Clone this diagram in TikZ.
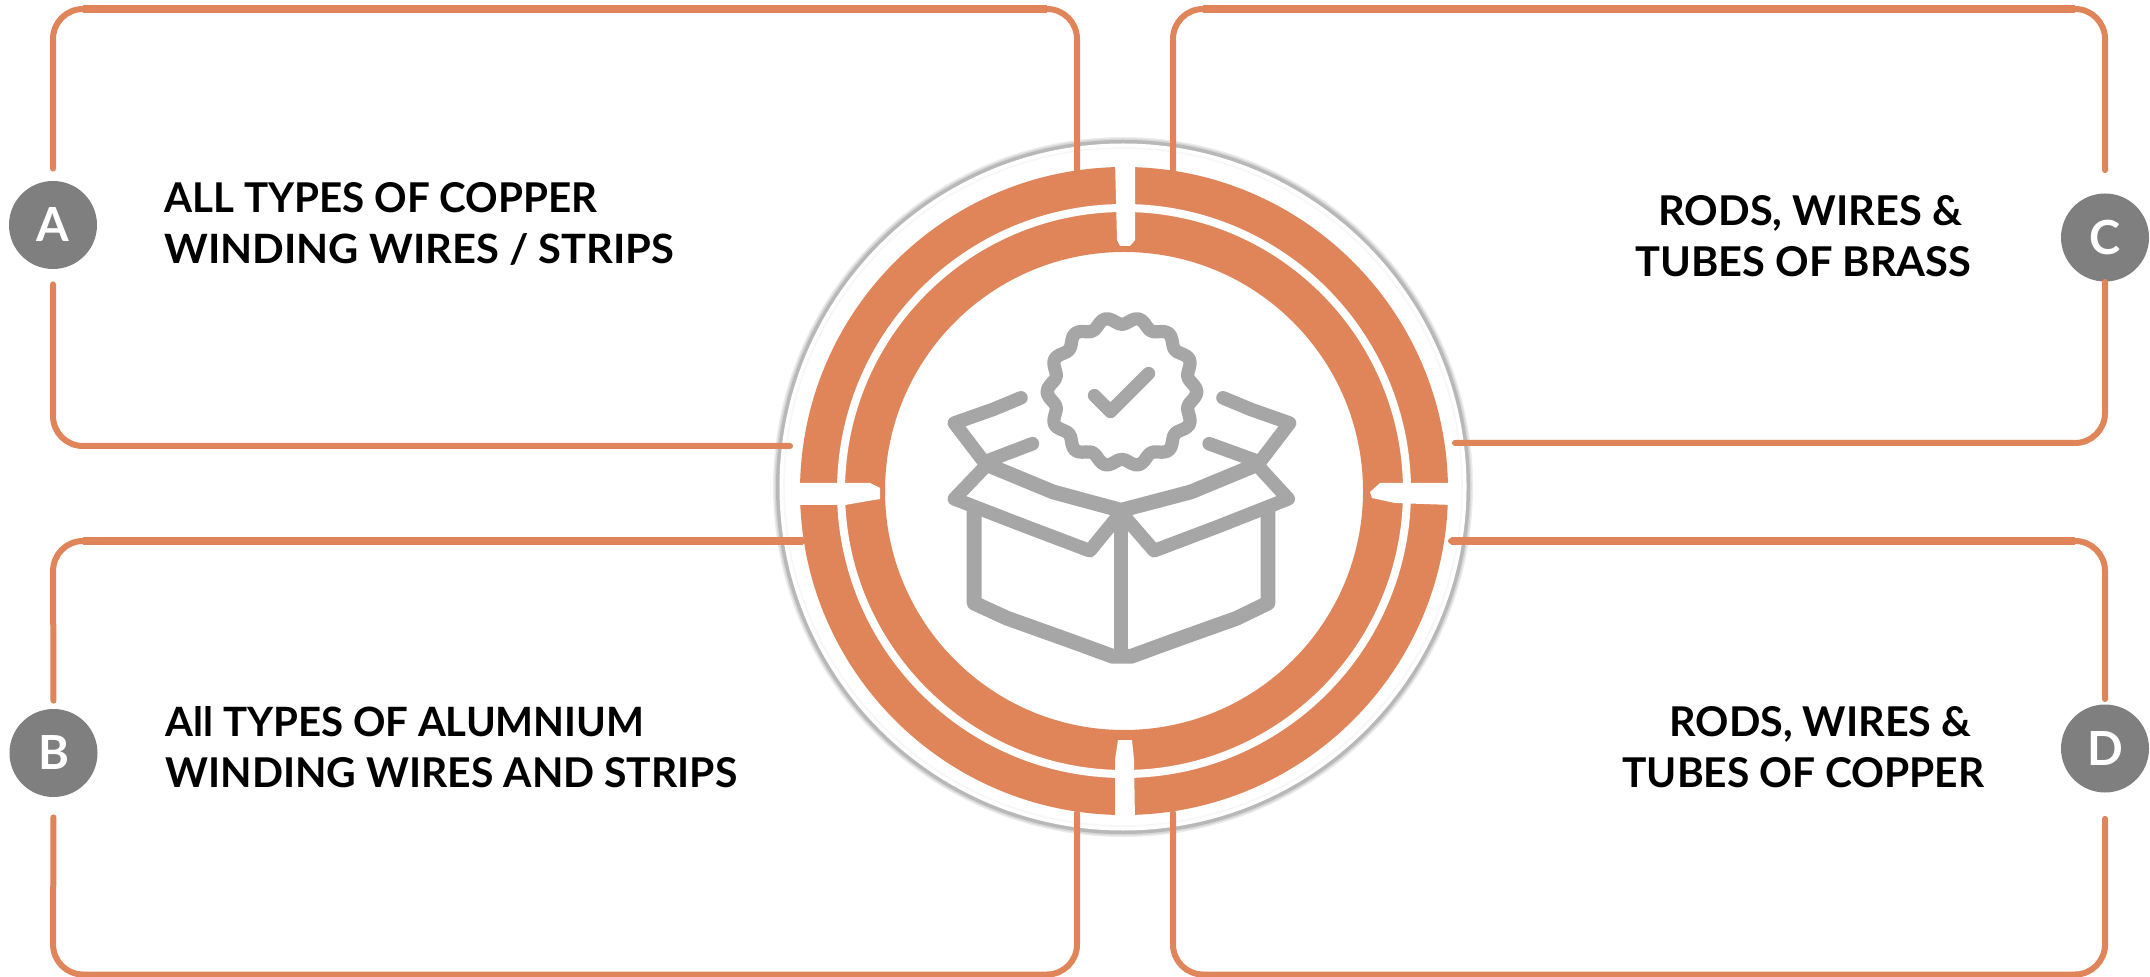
\documentclass[tikz,border=0pt]{standalone}
\usepackage{fontspec}
\usetikzlibrary{calc}
\setmainfont{Lato}
\definecolor{ringor}{HTML}{DF8559}
\definecolor{icongr}{HTML}{A6A6A6}
\definecolor{badgegr}{HTML}{7F7F7F}
\newcommand{\fitline}[2]{\resizebox{#1}{15pt}{#2}}
\tikzset{
  edgeline/.style={draw=ringor,line width=3pt,line cap=round,rounded corners=15pt},
  topline/.style={draw=ringor,line width=4pt},
  badge/.style={circle,fill=badgegr,minimum size=44pt,inner sep=0pt,text=white,font=\fontsize{23.5}{26}\selectfont\bfseries},
  labelbox/.style={inner sep=0pt,align=left,font=\fontsize{20}{25.5}\selectfont\bfseries,text=black},
  iconline/.style={draw=icongr,line width=7.4pt,line cap=round,line join=round},
  iconthin/.style={draw=icongr,line width=6.8pt,line cap=round,line join=round},
  gapfill/.style={fill=white,draw=none}
}
\begin{document}
\begin{tikzpicture}[x=0.5pt,y=-0.5pt]
\useasboundingbox (0,0) rectangle (2150,977);
\fill[white] (0,0) rectangle (2150,977);
% central disc with soft edge
\coordinate (disc) at (1123,487);
\coordinate (ring) at (1124,491);
\fill[black!8] (disc) circle[radius=350];
\fill[black!16] (disc) circle[radius=348.5];
\fill[black!28] (disc) circle[radius=347];
\fill[white] (disc) circle[radius=343.5];
\draw[black!3,line width=0.8pt] (disc) circle[radius=339];
% ring
\fill[ringor,even odd rule] (ring) circle[radius=324] (ring) circle[radius=239];
\draw[white,line width=4pt] (ring) circle[radius=283];
% gaps in the ring
\fill[gapfill] (1115,160) -- (1135,160) -- (1135,240) -- (1130,246) -- (1120,246) -- (1117,240) -- cycle;
\fill[gapfill] (1115,822) -- (1135,822) -- (1134,760) -- (1132,740) -- (1118,740) -- (1115,760) -- cycle;
\fill[gapfill] (796,483) -- (870,483) -- (880,488) -- (880,499) -- (868,501) -- (845,505) -- (796,505) -- cycle;
\fill[gapfill] (1452,483) -- (1380,483) -- (1370,492) -- (1372,498) -- (1395,503) -- (1452,505) -- cycle;
% icon, in the coordinates of a 720 px crop shown at 1568 px
\begin{scope}[shift={(750,120)},x=0.2296pt,y=-0.2296pt]
  \draw[iconline] (488,850) -- (488,1052) -- (560,1085) -- (700,1135) -- (790,1168) -- (830,1168) -- (920,1135) -- (1060,1085) -- (1128,1052) -- (1128,850);
  \draw[iconline,line cap=butt] (808,865) -- (808,1170);
  \draw[iconline] (515,750) -- (660,810) -- (808,850) -- (960,810) -- (1105,750);
  \draw[iconthin] (515,752) -- (445,825) -- (600,885) -- (740,938) -- (808,855) -- (880,938) -- (1020,885) -- (1172,825) -- (1105,752);
  \draw[iconthin] (510,745) -- (445,660) -- (530,630) -- (590,605);
  \draw[iconthin] (510,745) -- (615,705);
  \draw[iconthin] (1110,745) -- (1175,660) -- (1090,630) -- (1030,605);
  \draw[iconthin] (1110,745) -- (1000,705);
  \draw[iconline,line width=6.6pt] plot[domain=0:360,samples=141,smooth,variable=\t] ({810+(155+8*cos(14*\t))*cos(\t)},{592+(155+8*cos(14*\t))*sin(\t)}) -- cycle;
  \draw[iconline,line width=6.6pt] (750,600) -- (785,635) -- (868,552);
\end{scope}
% letter badges
\node[badge] (A) at (53,225) {A};
\node[badge] (B) at (53.5,753) {B};
\node[badge] (C) at (2105,237.5) {C};
\node[badge] (D) at (2105,748.5) {D};
% connector corners and ends
\coordinate (atl) at (53,9);
\coordinate (atr) at (1077,9);
\coordinate (aend) at (1077,170);
\coordinate (abl) at (53,446);
\coordinate (afree) at (790,446);
\coordinate (btl) at (53,541);
\coordinate (bfree) at (803,541);
\coordinate (bbl) at (53,974.5);
\coordinate (bbr) at (1077,974.5);
\coordinate (bend) at (1077,813);
\coordinate (ctl) at (1173,9);
\coordinate (ctr) at (2105,9);
\coordinate (cend) at (1173,170);
\coordinate (cbr) at (2105,443);
\coordinate (cfree) at (1455,443);
\coordinate (dtr) at (2105,541);
\coordinate (dfree) at (1451,541);
\coordinate (dbr) at (2105,974.5);
\coordinate (dbl) at (1173,974.5);
\coordinate (dend) at (1173,813);
% connectors
\draw[edgeline,shorten <=6pt] (A.north) -- (atl) -- (atr) -- (aend);
\draw[edgeline,shorten <=7.5pt] (A.south) -- (abl) -- (afree);
\draw[edgeline,shorten <=4pt] (B.north) -- (btl) -- (bfree);
\draw[edgeline,shorten <=10pt] (B.south) -- (bbl) -- (bbr) -- (bend);
\draw[edgeline,shorten <=11.5pt] (C.north) -- (ctr) -- (ctl) -- (cend);
\draw[edgeline] (C.south) -- (cbr) -- (cfree);
\draw[edgeline,shorten <=2.5pt] (D.north) -- (dtr) -- (dfree);
\draw[edgeline,shorten <=13pt] (D.south) -- (dbr) -- (dbl) -- (dend);
% heavier top runs
\draw[topline] ($(atl)+(30,0)$) -- ($(atr)+(-30,0)$);
\draw[topline] ($(ctl)+(30,0)$) -- ($(ctr)+(-30,0)$);
\draw[topline] ($(btl)+(30,0)$) -- (bfree);
\draw[topline] ($(dtr)+(-30,0)$) -- (dfree);
% labels
\node[labelbox,anchor=north west] (ta) at (164,182) {\fitline{216.5pt}{ALL TYPES OF COPPER}\\\fitline{255pt}{WINDING WIRES / STRIPS}};
\node[labelbox,anchor=north west] (tb) at (165,706) {\fitline{239.5pt}{All TYPES OF ALUMNIUM}\\\fitline{286pt}{WINDING WIRES AND STRIPS}};
\node[labelbox,anchor=north west] (tc) at (1635,195) {\hspace*{11.5pt}\fitline{152pt}{RODS, WIRES \&}\\\fitline{168pt}{TUBES OF BRASS}};
\node[labelbox,anchor=north west] (td) at (1622,706) {\hspace*{23.5pt}\fitline{151pt}{RODS, WIRES \&}\\\fitline{181pt}{TUBES OF COPPER}};
\end{tikzpicture}
\end{document}
